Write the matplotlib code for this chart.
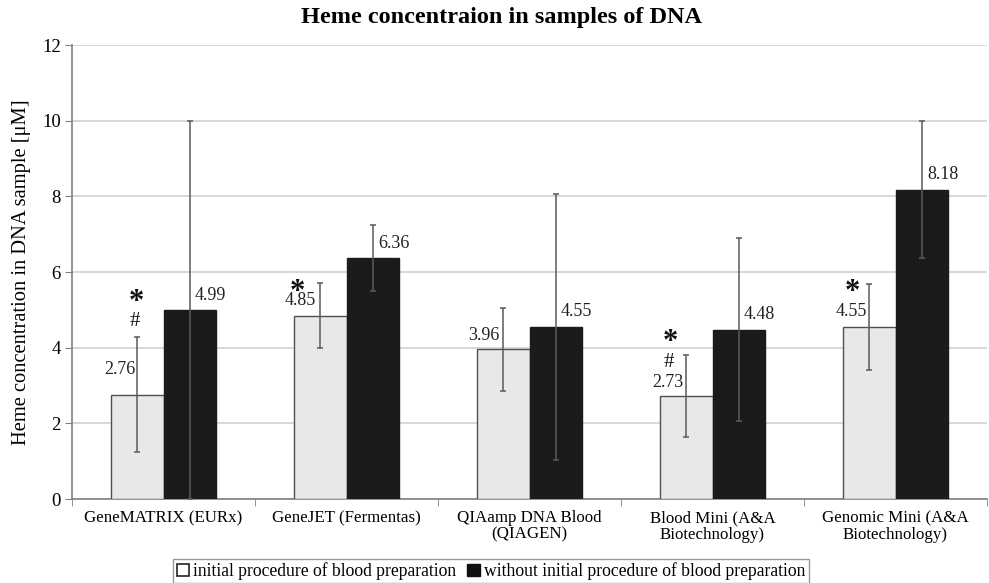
import matplotlib
matplotlib.use('Agg')
import matplotlib.pyplot as plt
import numpy as np
from matplotlib.patches import Patch

# ---------------- data ----------------
categories = ["GeneMATRIX (EURx)", "GeneJET (Fermentas)", "QIAamp DNA Blood\n(QIAGEN)",
              "Blood Mini (A&A\nBiotechnology)", "Genomic Mini (A&A\nBiotechnology)"]
series_names = ["initial procedure of blood preparation",
                "without initial procedure of blood preparation"]
initial = [2.76, 4.85, 3.96, 2.73, 4.55]
without_initial = [4.99, 6.36, 4.55, 4.48, 8.18]
initial_err = [1.53, 0.85, 1.10, 1.08, 1.13]
without_err = [4.99, 0.87, 3.52, 2.41, 1.81]
star_marks = [True, True, False, True, True]
hash_marks = [True, False, False, True, False]
yticks = [0, 2, 4, 6, 8, 10, 12]

# ---------------- style ----------------
plt.rcParams['font.family'] = ['Liberation Serif', 'DejaVu Serif']
PX = 0.72  # pixel -> points at dpi 100

fig = plt.figure(figsize=(9.89, 5.83), dpi=100)
ax = fig.add_axes([72/989, 1-499/583, (987-72)/989, (499-45)/583])

x = np.arange(len(categories))
w = 0.285
light_c = '#e8e8e8'
dark_c = '#1b1b1b'
err_c = '#5a5a5a'

ax.bar(x - w/2, initial, w, color=light_c, edgecolor='#505050', linewidth=1.0, zorder=3)
ax.bar(x + w/2, without_initial, w, color=dark_c, edgecolor='#1b1b1b', linewidth=1.0, zorder=3)
ax.errorbar(x - w/2, initial, yerr=initial_err, fmt='none', ecolor=err_c, elinewidth=1.1,
            capsize=2.5, capthick=1.1, zorder=4)
ax.errorbar(x + w/2, without_initial, yerr=without_err, fmt='none', ecolor=err_c, elinewidth=1.1,
            capsize=2.5, capthick=1.1, zorder=4)

ax.set_xlim(-0.5, len(categories) - 0.5)
ax.set_ylim(0, 12)
ax.set_yticks(yticks)
ax.set_yticklabels([str(t) for t in yticks], fontsize=13.5)
ax.yaxis.grid(True, color='#d4d4d4', linewidth=1.3, zorder=0)
ax.set_axisbelow(True)

ax.set_xticks(x)
ax.set_xticklabels(categories, fontsize=12.2, linespacing=1.05)
ax.set_xticks(np.arange(-0.5, len(categories)), minor=True)
ax.tick_params(axis='x', which='major', length=0, pad=8)
ax.tick_params(axis='x', which='minor', length=5, color='#808080', direction='out')
ax.tick_params(axis='y', length=5, color='#808080', direction='out', pad=3)

for s in ['top', 'right']:
    ax.spines[s].set_visible(False)
for s in ['left', 'bottom']:
    ax.spines[s].set_color('#808080')
    ax.spines[s].set_linewidth(1.2)

ax.set_ylabel("Heme concentration in DNA sample [\u03bcM]", fontsize=14.8, labelpad=8)
fig.text(0.507, 1 - 18/583, "Heme concentraion in samples of DNA", ha='center', va='center',
         fontsize=17.5, fontweight='bold')

# value labels (offsets in pixels: dx, up)
light_off = [(-18, 25), (-20, 15.5), (-19.5, 14), (-19, 13), (-18.5, 15)]
for i, v in enumerate(initial):
    dx, up = light_off[i]
    ax.annotate(f"{v:.2f}", (x[i] - w/2, v), xytext=(dx*PX, up*PX), textcoords='offset points',
                ha='center', va='center', fontsize=13, color='#222222', zorder=5)
for i, v in enumerate(without_initial):
    ax.annotate(f"{v:.2f}", (x[i] + w/2, v), xytext=(21*PX, 15*PX), textcoords='offset points',
                ha='center', va='center', fontsize=13, color='#222222', zorder=5)

# significance marks (offsets in pixels relative to light bar top)
star_off = {0: (-1, 100), 1: (-23, 31), 3: (-16, 61), 4: (-17.5, 42)}
hash_off = {0: (-3, 73), 3: (-18, 33)}
for i, v in enumerate(initial):
    if star_marks[i]:
        dx, up = star_off[i]
        ax.annotate("*", (x[i] - w/2, v), xytext=(dx*PX, (up - 8)*PX), textcoords='offset points',
                    ha='center', va='center', fontsize=22, fontweight='bold', color='#111111', zorder=5)
    if hash_marks[i]:
        dx, up = hash_off[i]
        ax.annotate("#", (x[i] - w/2, v), xytext=(dx*PX, up*PX), textcoords='offset points',
                    ha='center', va='center', fontsize=15, color='#111111', zorder=5)

handles = [Patch(facecolor='white', edgecolor='#222222', linewidth=1.2),
           Patch(facecolor='#111111', edgecolor='#111111')]
leg = fig.legend(handles, series_names, loc='center', bbox_to_anchor=(491/989, 1 - 571/583), ncol=2,
                 fontsize=12.7, frameon=True, fancybox=False, handlelength=0.7, handleheight=0.7,
                 handletextpad=0.25, columnspacing=0.6, borderpad=0.2, borderaxespad=0)
leg.get_frame().set_edgecolor('#808080')
leg.get_frame().set_linewidth(1.0)

fig.savefig('out.png', dpi=100)
